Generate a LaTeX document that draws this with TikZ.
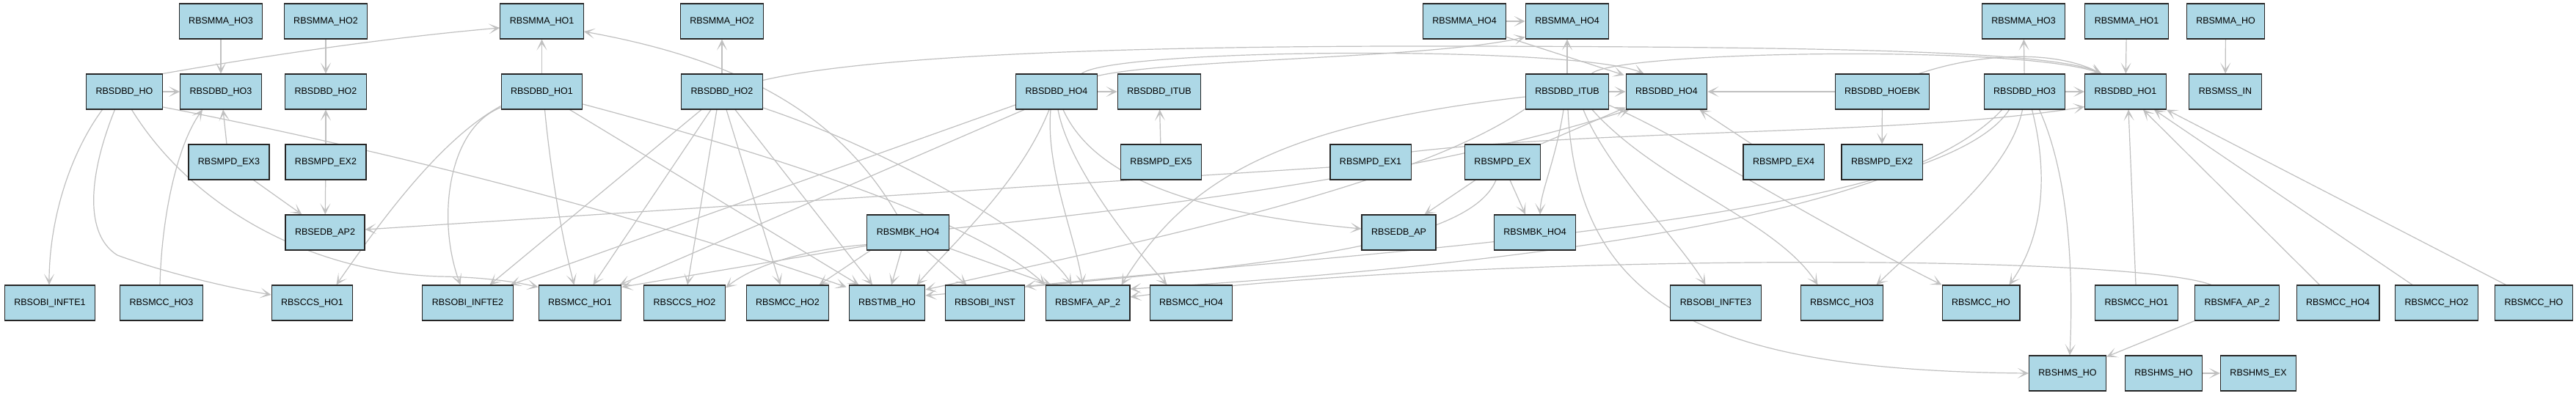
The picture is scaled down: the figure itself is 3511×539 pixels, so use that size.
\documentclass[tikz,border=0pt]{standalone}
\usepackage{fontspec}
\setmainfont{Liberation Sans}
\usetikzlibrary{arrows.meta,calc,backgrounds}
\definecolor{nodefill}{HTML}{ADD8E6}
\definecolor{edgegray}{HTML}{C0C0C0}
\tikzset{
  box/.style={draw=black!85, line width=1.1pt, fill=nodefill, minimum height=48pt,
    inner xsep=13pt, inner ysep=0pt, font=\fontsize{12.5}{15}\selectfont},
  edge/.style={draw=edgegray, line width=1.2pt, -{Stealth[length=15pt,width=14pt,inset=9pt]}}
}
\begin{document}
\begin{tikzpicture}[x=1pt,y=-1pt]
\useasboundingbox (0,0) rectangle (3511,539);
% nodes
\node[box] (mma3a) at (301,29) {RBSMMA\_HO3};
\node[box] (mma2a) at (444,29) {RBSMMA\_HO2};
\node[box] (dbd0) at (169.5,125) {RBSDBD\_HO};
\node[box] (dbd3a) at (301,125) {RBSDBD\_HO3};
\node[box] (dbd2a) at (444,125) {RBSDBD\_HO2};
\node[box] (ex3) at (312,221) {RBSMPD\_EX3};
\node[box] (ex2a) at (444,221) {RBSMPD\_EX2};
\node[box] (ap2) at (443,317) {RBSEDB\_AP2};
\node[box] (inf1) at (68,413) {RBSOBI\_INFTE1};
\node[box] (mcc3a) at (220,413) {RBSMCC\_HO3};
\node[box] (ccs1) at (425.5,413) {RBSCCS\_HO1};
\node[box] (mma1a) at (738.5,29) {RBSMMA\_HO1};
\node[box] (mma2b) at (984,29) {RBSMMA\_HO2};
\node[box] (dbd1a) at (738.5,125) {RBSDBD\_HO1};
\node[box] (dbd2b) at (984,125) {RBSDBD\_HO2};
\node[box] (inf2) at (637.5,413) {RBSOBI\_INFTE2};
\node[box] (mcc1a) at (790.5,413) {RBSMCC\_HO1};
\node[box] (ccs2) at (933,413) {RBSCCS\_HO2};
\node[box] (mcc2a) at (1073.5,413) {RBSMCC\_HO2};
\node[box] (tmb) at (1209,413) {RBSTMB\_HO};
\node[box] (mbk4a) at (1237.5,317) {RBSMBK\_HO4};
\node[box] (dbd4a) at (1440,125) {RBSDBD\_HO4};
\node[box] (itubA) at (1580,125) {RBSDBD\_ITUB};
\node[box] (ex5) at (1582.5,221) {RBSMPD\_EX5};
\node[box] (inst) at (1342.5,413) {RBSOBI\_INST};
\node[box] (mfaA) at (1482.5,413) {RBSMFA\_AP\_2};
\node[box] (mcc4a) at (1623.5,413) {RBSMCC\_HO4};
\node[box] (mma4a) at (1996,29) {RBSMMA\_HO4};
\node[box] (mma4b) at (2136,29) {RBSMMA\_HO4};
\node[box] (itubB) at (2136,125) {RBSDBD\_ITUB};
\node[box] (dbd4b) at (2271.5,125) {RBSDBD\_HO4};
\node[box] (ex1) at (1868,221) {RBSMPD\_EX1};
\node[box] (ex0) at (2048,221) {RBSMPD\_EX};
\node[box] (ap) at (1906.5,317) {RBSEDB\_AP};
\node[box] (mbk4b) at (2092,317) {RBSMBK\_HO4};
\node[box] (inf3) at (2338.5,413) {RBSOBI\_INFTE3};
\node[box] (mma3b) at (2758,29) {RBSMMA\_HO3};
\node[box] (mma1b) at (2898.5,29) {RBSMMA\_HO1};
\node[box] (hoebk) at (2565.5,125) {RBSDBD\_HOEBK};
\node[box] (dbd3b) at (2759.5,125) {RBSDBD\_HO3};
\node[box] (dbd1b) at (2897,125) {RBSDBD\_HO1};
\node[box] (ex4) at (2431,221) {RBSMPD\_EX4};
\node[box] (ex2b) at (2565,221) {RBSMPD\_EX2};
\node[box] (mcc3b) at (2510.5,413) {RBSMCC\_HO3};
\node[box] (mcc0a) at (2700,413) {RBSMCC\_HO};
\node[box] (mcc1b) at (2912,413) {RBSMCC\_HO1};
\node[box] (hmsA) at (2818,509) {RBSHMS\_HO};
\node[box] (hmsB) at (2949,509) {RBSHMS\_HO};
\node[box] (mfaB) at (3049,413) {RBSMFA\_AP\_2};
\node[box] (mcc4b) at (3186.5,413) {RBSMCC\_HO4};
\node[box] (mcc2b) at (3321,413) {RBSMCC\_HO2};
\node[box] (mcc0b) at (3453.5,413) {RBSMCC\_HO};
\node[box] (hmsEx) at (3078,509) {RBSHMS\_EX};
\node[box] (mma0) at (3033.5,29) {RBSMMA\_HO};
\node[box] (mss) at (3033,125) {RBSMSS\_IN};
% edges
\begin{scope}[on background layer]
\fill[white] (0,0) rectangle (3511,539);
\draw[edge] (mma3a) -- (dbd3a);
\draw[edge] (mma2a) -- (dbd2a);
\draw[edge] (dbd0) -- (dbd3a);
\draw[edge] (dbd0.north east) .. controls (350,78) and (520,52) .. ($(mma1a.west)+(0,9)$);
\draw[edge] ($(ex3.north)+(-3,0)$) -- ($(dbd3a.south)+(3,0)$);
\draw[edge] (ex2a) -- (dbd2a);
\draw[edge] ($(mcc3a.north)+(-2,0)$) .. controls (220,300) and (240,200) .. ($(dbd3a.south)+(-25,0)$);
\draw[edge] ($(dbd0.south)+(-30,0)$) .. controls (95,210) and (67,300) .. ($(inf1.north)+(-1,0)$);
\draw[edge] ($(dbd0.south)+(-13,0)$) .. controls (120,240) and (115,320) .. (160,348) .. controls (220,370) and (300,390) .. ($(ccs1.west)+(0,-11)$);
\draw[edge] ($(dbd0.south)+(10,0)$) .. controls (260,280) and (420,372) .. (600,377) .. controls (660,378) and (700,384) .. ($(mcc1a.north west)+(0,3)$);
\draw[edge] ($(dbd0.east)+(0,21)$) .. controls (450,190) and (800,270) .. ($(tmb.north west)+(-3,3)$);
\draw[edge] ($(ex3.south east)+(-22,0)$) -- ($(ap2.north west)+(23,0)$);
\draw[edge] (ex2a) -- (ap2);
\draw[edge] ($(ex1.west)+(0,7)$) -- ($(ap2.east)+(0,-4)$);
\draw[edge] (dbd1a) -- (mma1a);
\draw[edge] ($(dbd1a.south west)+(0,-3)$) .. controls (610,175) and (595,300) .. ($(inf2.north)+(-10,0)$);
\draw[edge] ($(dbd1a.south west)+(0,-5)$) .. controls (600,190) and (520,300) .. ($(ccs1.north east)+(-23,0)$);
\draw[edge] ($(dbd1a.south)+(4,0)$) .. controls (750,230) and (765,320) .. ($(mcc1a.north)+(-8,0)$);
\draw[edge] ($(dbd1a.south)+(38,0)$) -- ($(tmb.north west)+(14,0)$);
\draw[edge] ($(dbd1a.east)+(0,17)$) .. controls (1050,210) and (1330,300) .. (mfaA.north west);
\draw[edge] (dbd2b) -- (mma2b);
\draw[edge] ($(dbd2b.south)+(-28,0)$) -- ($(inf2.north)+(30,0)$);
\draw[edge] ($(dbd2b.south)+(-15,0)$) -- ($(mcc1a.north)+(18,0)$);
\draw[edge] ($(dbd2b.south)+(-7,0)$) -- ($(ccs2.north)+(4,0)$);
\draw[edge] ($(dbd2b.south)+(6,0)$) -- ($(mcc2a.north)+(-10,0)$);
\draw[edge] ($(dbd2b.south)+(18,0)$) -- ($(tmb.north)+(-20,0)$);
\draw[edge] ($(dbd2b.east)+(0,22)$) .. controls (1200,200) and (1420,320) .. ($(mfaA.north)+(-22,0)$);
\draw[edge] ($(dbd2b.north east)+(0,9)$) .. controls (1200,72) and (1600,62) .. (2000,63) .. controls (2500,64) and (2800,70) .. ($(dbd1b.north west)+(23,0)$);
\draw[edge] ($(mbk4a.north)+(-15,0)$) .. controls (1140,150) and (1000,80) .. ($(mma1a.east)+(0,14)$);
\draw[edge] ($(mbk4a.west)+(0,18)$) -- ($(mcc1a.north east)+(0,3)$);
\draw[edge] ($(mbk4a.south west)+(0,-8)$) .. controls (1100,340) and (1030,360) .. ($(ccs2.north east)+(0,4)$);
\draw[edge] ($(mbk4a.south west)+(5,0)$) -- ($(mcc2a.north east)+(-14,0)$);
\draw[edge] ($(mbk4a.south)+(-9,0)$) -- ($(tmb.north)+(6,0)$);
\draw[edge] ($(mbk4a.south)+(25,0)$) -- ($(inst.north)+(-25,0)$);
\draw[edge] ($(mbk4a.south east)+(0,-3)$) -- ($(mfaA.north west)+(8,0)$);
\draw[edge] ($(mbk4a.east)+(0,-5)$) .. controls (1700,270) and (2000,220) .. ($(dbd4b.south west)+(5,0)$);
\draw[edge] (dbd4a) -- (itubA);
\draw[edge] (ex5) -- (itubA);
\draw[edge] ($(dbd4a.west)+(0,18)$) -- ($(inf2.north east)+(-4,0)$);
\draw[edge] ($(dbd4a.south west)+(12,0)$) -- ($(mcc1a.north east)+(-3,0)$);
\draw[edge] ($(dbd4a.south)+(-10,0)$) .. controls (1390,250) and (1300,330) .. ($(tmb.north east)+(-12,0)$);
\draw[edge] ($(dbd4a.south)+(-8,0)$) .. controls (1425,230) and (1465,320) .. ($(mfaA.north)+(-7,0)$);
\draw[edge] ($(dbd4a.south)+(2,0)$) .. controls (1455,220) and (1530,320) .. ($(mcc4a.north)+(-33,0)$);
\draw[edge] ($(dbd4a.south)+(9,0)$) .. controls (1490,240) and (1620,290) .. ($(ap.west)+(0,-5)$);
\draw[edge] ($(dbd4a.north east)+(0,3)$) .. controls (1600,80) and (1950,80) .. ($(mma4b.south west)+(0,-3)$);
\draw[edge] ($(dbd4a.north)+(34,0)$) .. controls (1520,65) and (2150,62) .. ($(dbd4b.north west)+(25,0)$);
\draw[edge] (mma4a) -- (mma4b);
\draw[edge] ($(mma4a.south east)+(0,-3)$) -- ($(dbd4b.north west)+(-2,2)$);
\draw[edge] (itubB) -- (mma4b);
\draw[edge] (itubB) -- (dbd4b);
\draw[edge] ($(itubB.north east)+(-24,0)$) .. controls (2200,70) and (2750,60) .. ($(dbd1b.north west)+(23,0)$);
\draw[edge] (hoebk) -- (dbd4b);
\draw[edge] ($(ex4.north west)+(12,0)$) -- ($(dbd4b.south east)+(-11,0)$);
\draw[edge] (ex0.north east) -- ($(dbd4b.south west)+(0,-3)$);
\draw[edge] ($(ex0.south west)+(15,0)$) -- ($(ap.north)+(35,0)$);
\draw[edge] ($(ex0.south)+(10,0)$) -- ($(mbk4b.north)+(-13,0)$);
\draw[edge] ($(itubB.south)+(-5,0)$) .. controls (2120,220) and (2100,260) .. ($(mbk4b.north)+(7,0)$);
\draw[edge] ($(itubB.south)+(1,0)$) .. controls (2150,420) and (2330,505) .. (hmsA.west);
\draw[edge] ($(itubB.south)+(22,0)$) .. controls (2190,230) and (2290,330) .. ($(inf3.north)+(-14,0)$);
\draw[edge] ($(itubB.south)+(34,0)$) .. controls (2260,250) and (2420,300) .. ($(mcc3b.north)+(-33,0)$);
\draw[edge] ($(itubB.south east)+(0,-6)$) .. controls (2300,190) and (2450,290) .. (mcc0a.north west);
\draw[edge] ($(itubB.west)+(0,7)$) .. controls (1750,170) and (1620,240) .. ($(mfaA.north east)+(-12,0)$);
\draw[edge] ($(itubB.south west)+(0,-1)$) .. controls (1930,250) and (1600,320) .. ($(tmb.east)+(0,-18)$);
\draw[edge] ($(dbd3b.south west)+(25,0)$) .. controls (2600,290) and (2100,360) .. ($(mfaA.east)+(0,-19)$);
\draw[edge] ($(dbd3b.south west)+(35,0)$) .. controls (2640,300) and (1900,340) .. ($(inst.north east)+(0,2)$);
\draw[edge] ($(ex0.south)+(-9,0)$) .. controls (2000,340) and (1700,365) .. ($(tmb.east)+(0,-10)$);
\draw[edge] ($(mfaB.north west)+(23,0)$) .. controls (2900,345) and (2000,345) .. ($(mfaA.east)+(0,-8)$);
\draw[edge] (mfaB.south west) -- ($(hmsA.north east)+(0,2)$);
\draw[edge] (hoebk) -- (ex2b);
\draw[edge] ($(hoebk.north east)+(-15,0)$) .. controls (2700,72) and (2800,68) .. ($(dbd1b.north west)+(23,0)$);
\draw[edge] (dbd3b) -- (mma3b);
\draw[edge] (dbd3b) -- (dbd1b);
\draw[edge] ($(dbd3b.south)+(-3,0)$) .. controls (2740,230) and (2650,300) .. ($(mcc3b.north east)+(-10,0)$);
\draw[edge] ($(dbd3b.south)+(10,0)$) .. controls (2795,250) and (2780,330) .. ($(mcc0a.north east)+(-15,0)$);
\draw[edge] ($(dbd3b.south)+(20,0)$) .. controls (2825,250) and (2825,400) .. ($(hmsA.north)+(3,0)$);
\draw[edge] (mma1b) -- (dbd1b);
\draw[edge] ($(mcc1b.north)+(-1,0)$) -- ($(dbd1b.south)+(4,0)$);
\draw[edge] ($(mcc4b.north)+(-25,0)$) -- ($(dbd1b.south)+(24,0)$);
\draw[edge] ($(mcc2b.north)+(-33,0)$) -- ($(dbd1b.south east)+(-17,0)$);
\draw[edge] ($(mcc0b.north)+(-38,0)$) -- (dbd1b.south east);
\draw[edge] ($(ex1.east)+(0,-14)$) .. controls (2200,175) and (2600,185) .. ($(dbd1b.south west)+(0,-4)$);
\draw[edge] (mma0) -- (mss);
\draw[edge] (hmsB) -- (hmsEx);
\end{scope}
\end{tikzpicture}
\end{document}
